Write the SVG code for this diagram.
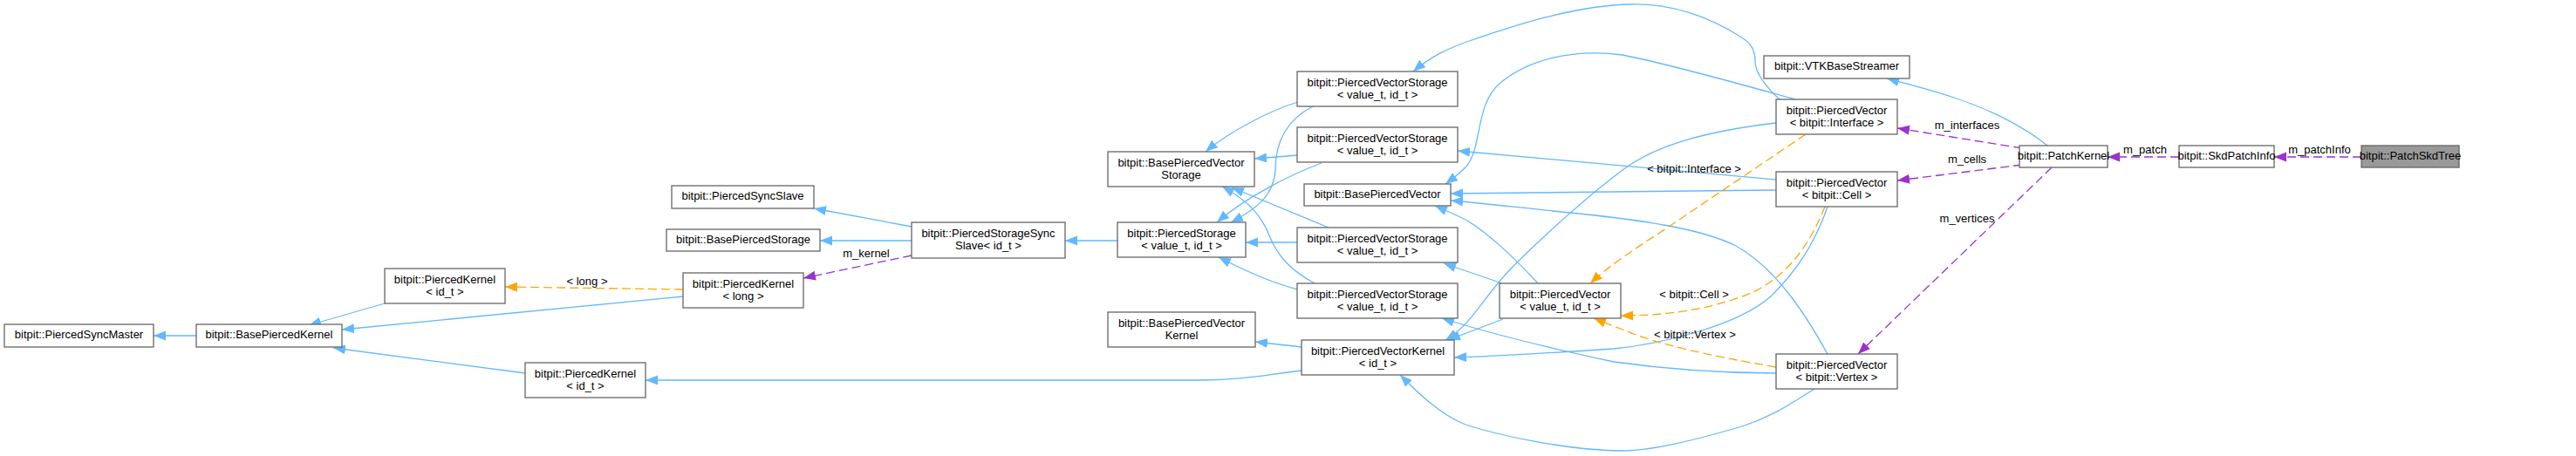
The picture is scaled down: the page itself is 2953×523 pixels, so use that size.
<svg xmlns="http://www.w3.org/2000/svg" width="2953" height="523" viewBox="0 0 2953 523">
<defs>
<marker id="ab" markerUnits="userSpaceOnUse" markerWidth="15" markerHeight="12" refX="14" refY="5.5" orient="auto"><path d="M0,0 L14,5.5 L0,11 z" fill="#63b8ff"/></marker>
<marker id="ap" markerUnits="userSpaceOnUse" markerWidth="15" markerHeight="12" refX="14" refY="5.5" orient="auto"><path d="M0,0 L14,5.5 L0,11 z" fill="#9a32cd"/></marker>
<marker id="ao" markerUnits="userSpaceOnUse" markerWidth="15" markerHeight="12" refX="14" refY="5.5" orient="auto"><path d="M0,0 L14,5.5 L0,11 z" fill="#ffa500"/></marker>
</defs>
<style>
.n rect{fill:#ffffff;stroke:#666666;stroke-width:1.3}
.n text, .lbl{font-family:"Liberation Sans",Arial,sans-serif;font-size:13px;fill:#000000;text-anchor:middle}
.b{fill:none;stroke:#63b8ff;stroke-width:1.3;marker-end:url(#ab)}
.p{fill:none;stroke:#9a32cd;stroke-width:1.3;stroke-dasharray:10,5;marker-end:url(#ap)}
.o{fill:none;stroke:#ffa500;stroke-width:1.3;stroke-dasharray:10,5;marker-end:url(#ao)}
</style>
<rect width="2953" height="523" fill="#ffffff"/>
<g id="edges">
<path class="b" d="M225,385 L176,385"/>
<path class="b" d="M441,348 L354,373"/>
<path class="b" d="M783,340 L392,378"/>
<path class="b" d="M602,428 L382,399"/>
<path class="o" d="M783,332 L579,329"/>
<text class="lbl" x="673" y="327">&lt; long &gt;</text>
<path class="b" d="M1045,260 L933,239"/>
<path class="b" d="M1045,276 L940,276"/>
<path class="p" d="M1045,293 L921,319"/>
<text class="lbl" x="993" y="295">m_kernel</text>
<path class="b" d="M1281,276 L1221,276"/>
<path class="b" d="M1488,117 C1460,125 1410,150 1382,174"/>
<path class="b" d="M1488,178 L1438,182"/>
<path class="b" d="M1505,122 C1470,140 1462,170 1462,195 C1460,225 1440,240 1411,255"/>
<path class="b" d="M1515,187 C1480,200 1430,225 1395,255"/>
<path class="b" d="M1523,261 L1412,215"/>
<path class="b" d="M1507,325 C1480,310 1465,295 1455,270 C1445,245 1430,230 1401,214"/>
<path class="b" d="M1487,278 L1428,278"/>
<path class="b" d="M1488,332 C1460,325 1430,312 1397,295"/>
<path class="b" d="M1722,325 L1655,302"/>
<path class="b" d="M1763,325 C1740,300 1700,260 1672,248 L1645,236"/>
<path class="b" d="M1723,366 L1660,390"/>
<path class="b" d="M1492,398 L1439,392"/>
<path class="b" d="M1492,425 C1450,430 1420,436 1380,436 L740,436"/>
<path class="b" d="M2040,114 C2025,100 2012,85 2012,70 C2012,55 2005,48 1995,42 C1960,20 1920,4 1870,5 C1800,6 1720,35 1690,45 C1660,55 1640,65 1620,82"/>
<path class="b" d="M2058,114 C2000,98 1920,75 1860,63 C1800,55 1750,70 1720,95 C1690,120 1700,170 1680,192 C1672,200 1665,205 1657,211"/>
<path class="b" d="M2036,141 C1960,150 1900,165 1860,195 C1820,225 1770,270 1735,305 C1700,340 1690,370 1657,390"/>
<path class="b" d="M2036,206 L1671,173"/>
<path class="b" d="M2036,218 L1663,222"/>
<path class="b" d="M2095,237 C2080,280 2060,310 2030,340 C1990,375 1900,395 1850,400 C1760,406 1700,409 1667,410"/>
<path class="b" d="M2095,406 C2075,370 2040,310 1990,282 C1950,262 1880,252 1800,244 C1740,238 1700,233 1663,230"/>
<path class="b" d="M2036,428 C1960,428 1900,422 1850,415 C1780,400 1700,380 1653,365"/>
<path class="b" d="M2080,446 C2050,465 2030,478 2000,488 C1960,500 1900,517 1860,517 C1800,517 1720,500 1680,487 C1650,475 1625,450 1605,430"/>
<path class="o" d="M2070,154 L1913,260 C1880,282 1850,300 1823,325"/>
<text class="lbl" x="1942" y="198">&lt; bitpit::Interface &gt;</text>
<path class="o" d="M2092,237 C2075,280 2050,315 2010,335 C1970,352 1920,362 1858,362"/>
<text class="lbl" x="1942" y="342">&lt; bitpit::Cell &gt;</text>
<path class="o" d="M2036,421 C1960,408 1900,395 1860,378 L1827,365"/>
<text class="lbl" x="1943" y="388">&lt; bitpit::Vertex &gt;</text>
<path class="b" d="M2347,167 C2320,145 2280,125 2240,112 C2210,102 2185,96 2163,90"/>
<path class="p" d="M2318,170 L2175,147"/>
<text class="lbl" x="2255" y="148">m_interfaces</text>
<path class="p" d="M2318,189 L2175,207"/>
<text class="lbl" x="2255" y="187">m_cells</text>
<path class="p" d="M2352,192 L2130,406"/>
<text class="lbl" x="2255" y="255">m_vertices</text>
<path class="p" d="M2498,180 L2416,180"/>
<text class="lbl" x="2459" y="176">m_patch</text>
<path class="p" d="M2707,180 L2607,180"/>
<text class="lbl" x="2659" y="176">m_patchInfo</text>
</g>
<g id="PiercedSyncMaster" class="n"><rect x="5" y="372" width="171" height="26"/><text x="90.5" y="388">bitpit::PiercedSyncMaster</text></g>
<g id="BasePiercedKernel" class="n"><rect x="225" y="372" width="167" height="26"/><text x="308.5" y="388">bitpit::BasePiercedKernel</text></g>
<g id="PiercedKernel_id_top" class="n"><rect x="441" y="308" width="138" height="40"/><text x="510" y="324.5">bitpit::PiercedKernel</text><text x="510" y="338.5">&lt; id_t &gt;</text></g>
<g id="PiercedKernel_long" class="n"><rect x="783" y="313" width="138" height="40"/><text x="852" y="329.5">bitpit::PiercedKernel</text><text x="852" y="343.5">&lt; long &gt;</text></g>
<g id="PiercedKernel_id_bot" class="n"><rect x="602" y="416" width="138" height="40"/><text x="671" y="432.5">bitpit::PiercedKernel</text><text x="671" y="446.5">&lt; id_t &gt;</text></g>
<g id="PiercedSyncSlave" class="n"><rect x="770" y="213" width="163" height="26"/><text x="851.5" y="229">bitpit::PiercedSyncSlave</text></g>
<g id="BasePiercedStorage" class="n"><rect x="764" y="263" width="176" height="25"/><text x="852" y="279">bitpit::BasePiercedStorage</text></g>
<g id="PiercedStorageSyncSlave" class="n"><rect x="1045" y="255" width="176" height="41"/><text x="1133" y="271.5">bitpit::PiercedStorageSync</text><text x="1133" y="285.5">Slave&lt; id_t &gt;</text></g>
<g id="PiercedStorage" class="n"><rect x="1281" y="255" width="147" height="40"/><text x="1354.5" y="271.5">bitpit::PiercedStorage</text><text x="1354.5" y="285.5">&lt; value_t, id_t &gt;</text></g>
<g id="BasePiercedVectorStorage" class="n"><rect x="1270" y="174" width="168" height="40"/><text x="1354" y="190.5">bitpit::BasePiercedVector</text><text x="1354" y="204.5">Storage</text></g>
<g id="BasePiercedVectorKernel" class="n"><rect x="1270" y="358" width="169" height="40"/><text x="1354.5" y="374.5">bitpit::BasePiercedVector</text><text x="1354.5" y="388.5">Kernel</text></g>
<g id="PiercedVectorStorage1" class="n"><rect x="1487" y="82" width="184" height="40"/><text x="1579" y="98.5">bitpit::PiercedVectorStorage</text><text x="1579" y="112.5">&lt; value_t, id_t &gt;</text></g>
<g id="PiercedVectorStorage2" class="n"><rect x="1487" y="146" width="184" height="40"/><text x="1579" y="162.5">bitpit::PiercedVectorStorage</text><text x="1579" y="176.5">&lt; value_t, id_t &gt;</text></g>
<g id="BasePiercedVector" class="n"><rect x="1495" y="211" width="168" height="25"/><text x="1579" y="227">bitpit::BasePiercedVector</text></g>
<g id="PiercedVectorStorage3" class="n"><rect x="1487" y="261" width="184" height="40"/><text x="1579" y="277.5">bitpit::PiercedVectorStorage</text><text x="1579" y="291.5">&lt; value_t, id_t &gt;</text></g>
<g id="PiercedVectorStorage4" class="n"><rect x="1487" y="325" width="184" height="40"/><text x="1579" y="341.5">bitpit::PiercedVectorStorage</text><text x="1579" y="355.5">&lt; value_t, id_t &gt;</text></g>
<g id="PiercedVectorKernel" class="n"><rect x="1492" y="390" width="175" height="40"/><text x="1579.5" y="406.5">bitpit::PiercedVectorKernel</text><text x="1579.5" y="420.5">&lt; id_t &gt;</text></g>
<g id="PiercedVector_value" class="n"><rect x="1719" y="325" width="139" height="40"/><text x="1788.5" y="341.5">bitpit::PiercedVector</text><text x="1788.5" y="355.5">&lt; value_t, id_t &gt;</text></g>
<g id="VTKBaseStreamer" class="n"><rect x="2022" y="64" width="167" height="26"/><text x="2105.5" y="80">bitpit::VTKBaseStreamer</text></g>
<g id="PiercedVector_Interface" class="n"><rect x="2036" y="114" width="139" height="40"/><text x="2105.5" y="130.5">bitpit::PiercedVector</text><text x="2105.5" y="144.5">&lt; bitpit::Interface &gt;</text></g>
<g id="PiercedVector_Cell" class="n"><rect x="2036" y="197" width="139" height="40"/><text x="2105.5" y="213.5">bitpit::PiercedVector</text><text x="2105.5" y="227.5">&lt; bitpit::Cell &gt;</text></g>
<g id="PiercedVector_Vertex" class="n"><rect x="2036" y="406" width="139" height="40"/><text x="2105.5" y="422.5">bitpit::PiercedVector</text><text x="2105.5" y="436.5">&lt; bitpit::Vertex &gt;</text></g>
<g id="PatchKernel" class="n"><rect x="2315" y="167" width="101" height="25"/><text x="2365.5" y="183">bitpit::PatchKernel</text></g>
<g id="SkdPatchInfo" class="n"><rect x="2498" y="167" width="109" height="25"/><text x="2552.5" y="183">bitpit::SkdPatchInfo</text></g>
<g id="PatchSkdTree" class="n"><rect x="2707" y="167" width="112" height="25" style="fill:#999999"/><text x="2763" y="183">bitpit::PatchSkdTree</text></g>
</svg>
